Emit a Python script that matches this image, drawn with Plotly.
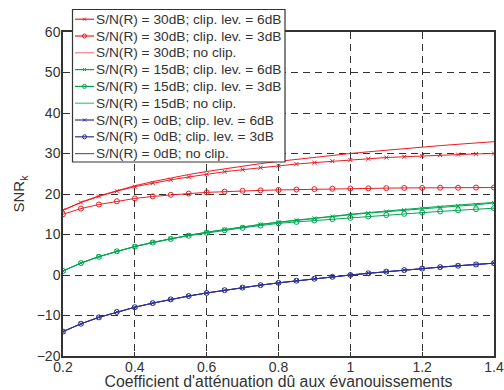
import plotly.graph_objects as go

x = [0.2, 0.25, 0.3, 0.35, 0.4, 0.45, 0.5, 0.55, 0.6, 0.65, 0.7, 0.75, 0.8,
     0.85, 0.9, 0.95, 1.0, 1.05, 1.1, 1.15, 1.2, 1.25, 1.3, 1.35, 1.4]

red_6db = [16.0, 17.9, 19.4, 20.7, 21.8, 22.7, 23.5, 24.2, 24.9, 25.5, 26.0, 26.5, 27.0,
           27.4, 27.75, 28.1, 28.4, 28.7, 29.0, 29.2, 29.4, 29.6, 29.75, 29.9, 30.0]
red_3db = [15.0, 16.4, 17.4, 18.2, 18.9, 19.4, 19.8, 20.1, 20.4, 20.6, 20.8, 20.9, 21.0,
           21.1, 21.2, 21.3, 21.35, 21.4, 21.45, 21.5, 21.5, 21.55, 21.55, 21.6, 21.6]
red_noclip = [16.0, 17.96, 19.54, 20.88, 22.04, 23.06, 23.98, 24.81, 25.56, 26.26, 26.9, 27.5, 28.06,
              28.59, 29.08, 29.55, 30.0, 30.42, 30.83, 31.21, 31.58, 31.94, 32.28, 32.61, 32.92]

green_6db = [1.0, 2.95, 4.54, 5.88, 7.04, 8.06, 8.98, 9.8, 10.55, 11.25, 11.88, 12.47, 13.02,
             13.53, 14.0, 14.45, 14.88, 15.28, 15.66, 16.02, 16.37, 16.7, 17.02, 17.32, 17.8]
green_3db = [1.0, 2.95, 4.5, 5.85, 7.0, 8.0, 8.9, 9.7, 10.4, 11.05, 11.65, 12.2, 12.75,
             13.1, 13.45, 13.8, 14.1, 14.45, 14.8, 15.1, 15.4, 15.7, 16.0, 16.25, 16.5]
green_noclip = [1.02, 2.96, 4.54, 5.88, 7.04, 8.06, 8.98, 9.81, 10.56, 11.26, 11.9, 12.5, 13.06,
                13.59, 14.08, 14.55, 15.0, 15.42, 15.83, 16.21, 16.58, 16.94, 17.28, 17.61, 17.92]

blue_6db = [-13.98, -12.04, -10.46, -9.12, -7.96, -6.94, -6.02, -5.19, -4.44, -3.74, -3.1, -2.5, -1.94,
            -1.41, -0.92, -0.45, 0.0, 0.42, 0.83, 1.21, 1.58, 1.94, 2.28, 2.61, 2.92]
blue_3db = [-13.98, -12.04, -10.46, -9.12, -7.96, -6.94, -6.02, -5.19, -4.44, -3.74, -3.1, -2.5, -1.94,
            -1.41, -0.92, -0.45, 0.0, 0.42, 0.83, 1.21, 1.58, 1.94, 2.28, 2.61, 2.92]
blue_noclip = [-13.98, -12.04, -10.46, -9.12, -7.96, -6.94, -6.02, -5.19, -4.44, -3.74, -3.1, -2.5, -1.94,
               -1.41, -0.92, -0.45, 0.0, 0.42, 0.83, 1.21, 1.58, 1.94, 2.28, 2.61, 2.92]

names = [
    "S/N(R) = 30dB; clip. lev. = 6dB",
    "S/N(R) = 30dB; clip. lev. = 3dB",
    "S/N(R) = 30dB; no clip.",
    "S/N(R) = 15dB; clip. lev. = 6dB",
    "S/N(R) = 15dB; clip. lev. = 3dB",
    "S/N(R) = 15dB; no clip.",
    "S/N(R) = 0dB; clip. lev. = 6dB",
    "S/N(R) = 0dB; clip. lev. = 3dB",
    "S/N(R) = 0dB; no clip.",
]
series = [red_6db, red_3db, red_noclip, green_6db, green_3db, green_noclip,
          blue_6db, blue_3db, blue_noclip]
RED, GREEN, BLUE = "#ec1c24", "#00a651", "#2e3192"
LRED, LGREEN, LBLUE = "#f27a7f", "#4cc185", "#5a5db0"
colors = [RED, RED, RED, GREEN, GREEN, GREEN, BLUE, BLUE, BLUE]
legend_colors = [RED, RED, LRED, GREEN, GREEN, LGREEN, BLUE, BLUE, LBLUE]
kinds = ["x", "o", "none"] * 3
TXT = "#333333"

# figure geometry (pixels)
W, H = 504, 390
ML, MR, MT, MB = 63, 10, 32, 34
PW, PH = W - ML - MR, H - MT - MB


def px(xp):
    return (xp - ML) / PW


def py(yp):
    return (H - MB - yp) / PH


fig = go.Figure()
for name, ys, c, k in zip(names, series, colors, kinds):
    if k == "x":
        mode = "lines+markers"
        marker = dict(symbol="x-thin", size=4, line=dict(color=c, width=1), color=c)
    elif k == "o":
        mode = "lines+markers"
        marker = dict(symbol="circle-open", size=5, line=dict(color=c, width=1), color=c)
    else:
        mode = "lines"
        marker = None
    fig.add_trace(go.Scatter(x=x, y=ys, name=name, mode=mode, showlegend=False,
                             line=dict(color=c, width=1), marker=marker))

axis_common = dict(
    showline=True, linecolor="#333333", linewidth=1.5, mirror=True,
    ticks="inside", ticklen=4, tickcolor="#333333", automargin=False,
    showgrid=True, gridcolor="#333333", gridwidth=1, griddash="7px,5px",
    zeroline=False, tickfont=dict(size=14, color=TXT),
)
fig.update_xaxes(range=[0.2, 1.4], dtick=0.2, tick0=0.2, ticklabelstandoff=-3,
                 title=dict(text="Coefficient d'atténuation dû aux évanouissements",
                            font=dict(size=15.8, color=TXT), standoff=0),
                 **axis_common)
fig.update_yaxes(range=[-20, 60], dtick=10, ticklabelstandoff=-2,
                 title=dict(text="SNR<sub>k</sub>", font=dict(size=15, color=TXT), standoff=8),
                 **axis_common)

# hand-drawn legend box (Matlab-style compact legend)
shapes = [dict(type="rect", xref="paper", yref="paper", layer="above",
               x0=px(72.5), x1=px(285), y0=py(162), y1=py(9.5),
               fillcolor="white", line=dict(color="#333333", width=1.2))]
annotations = []
row0, dy = 19.2, 16.8
for i, (name, c, k) in enumerate(zip(names, legend_colors, kinds)):
    yc = row0 + i * dy
    shapes.append(dict(type="line", xref="paper", yref="paper", layer="above",
                       x0=px(75), x1=px(94), y0=py(yc), y1=py(yc),
                       line=dict(color=c, width=1.2)))
    if k == "o":
        shapes.append(dict(type="circle", xref="paper", yref="paper", layer="above",
                           x0=px(82.5), x1=px(86.5), y0=py(yc + 2), y1=py(yc - 2),
                           line=dict(color=c, width=1)))
    elif k == "x":
        shapes.append(dict(type="line", xref="paper", yref="paper", layer="above",
                           x0=px(83), x1=px(86), y0=py(yc - 1.5), y1=py(yc + 1.5),
                           line=dict(color=c, width=1)))
        shapes.append(dict(type="line", xref="paper", yref="paper", layer="above",
                           x0=px(83), x1=px(86), y0=py(yc + 1.5), y1=py(yc - 1.5),
                           line=dict(color=c, width=1)))
    annotations.append(dict(text=name, xref="paper", yref="paper",
                            x=px(93.5), y=py(yc), xanchor="left", yanchor="middle",
                            showarrow=False, font=dict(size=13.7, color=TXT)))

fig.update_layout(
    width=W, height=H,
    margin=dict(l=ML, r=MR, t=MT, b=MB),
    paper_bgcolor="white", plot_bgcolor="white",
    font=dict(family="Liberation Sans, Arial, sans-serif", color=TXT),
    showlegend=False,
    shapes=shapes,
    annotations=annotations,
)
fig.write_html("out.html", config={"displayModeBar": False},
               post_script="document.body.style.margin='0px';document.body.style.overflow='hidden';")
